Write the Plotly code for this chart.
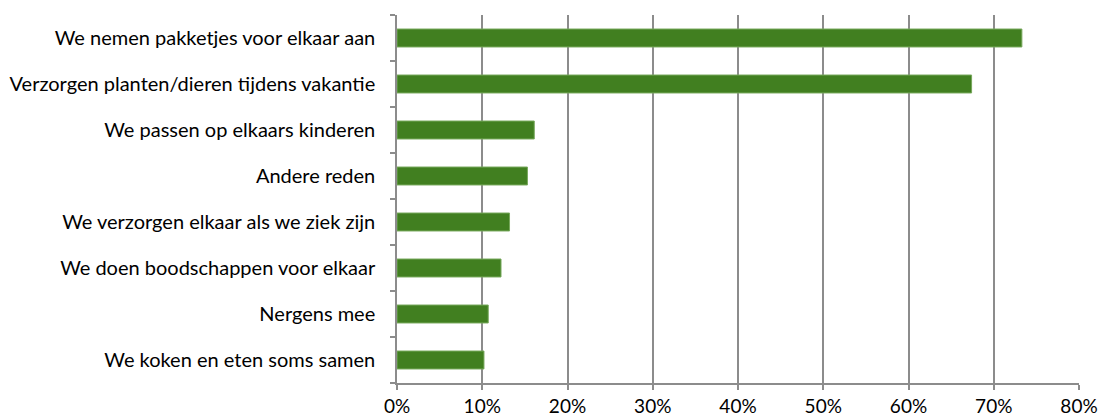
import plotly.graph_objects as go

categories = [
    "We nemen pakketjes voor elkaar aan",
    "Verzorgen planten/dieren tijdens vakantie",
    "We passen op elkaars kinderen",
    "Andere reden",
    "We verzorgen elkaar als we ziek zijn",
    "We doen boodschappen voor elkaar",
    "Nergens mee",
    "We koken en eten soms samen",
]
values = [0.733, 0.674, 0.161, 0.153, 0.132, 0.122, 0.107, 0.102]
x_ticks = [0, 0.1, 0.2, 0.3, 0.4, 0.5, 0.6, 0.7, 0.8]
x_tick_labels = ["0%", "10%", "20%", "30%", "40%", "50%", "60%", "70%", "80%"]

fig = go.Figure(go.Bar(
    x=values,
    y=categories,
    orientation="h",
    marker=dict(color="#417F20", line=dict(color="#77A85C", width=1)),
))

fig.update_layout(
    width=1103, height=420,
    margin=dict(l=397, r=24, t=15, b=37),
    paper_bgcolor="white", plot_bgcolor="white",
    bargap=0.61,
    font=dict(family="Lato", size=20, color="black"),
    showlegend=False,
)
fig.update_xaxes(
    range=[0, 0.8], tickvals=x_ticks, ticktext=x_tick_labels,
    showgrid=True, gridcolor="#8C8C8C", gridwidth=1.5,
    showline=True, linecolor="#8C8C8C", linewidth=1.5,
    ticks="outside", ticklen=5, tickcolor="#8C8C8C", tickwidth=1.5,
    zeroline=False, tickfont=dict(size=19), automargin=False,
)
fig.update_yaxes(
    categoryorder="array", categoryarray=categories[::-1],
    showline=True, linecolor="#8C8C8C", linewidth=1.5,
    ticks="outside", ticklen=5, tickcolor="#8C8C8C", tickwidth=1.5,
    tickson="boundaries", showgrid=False, ticklabelstandoff=16,
    tickfont=dict(size=20), automargin=False,
)

fig.write_html(
    "out.html",
    config={"displayModeBar": False},
    post_script="document.body.style.margin='0';document.body.style.overflow='hidden';",
)
